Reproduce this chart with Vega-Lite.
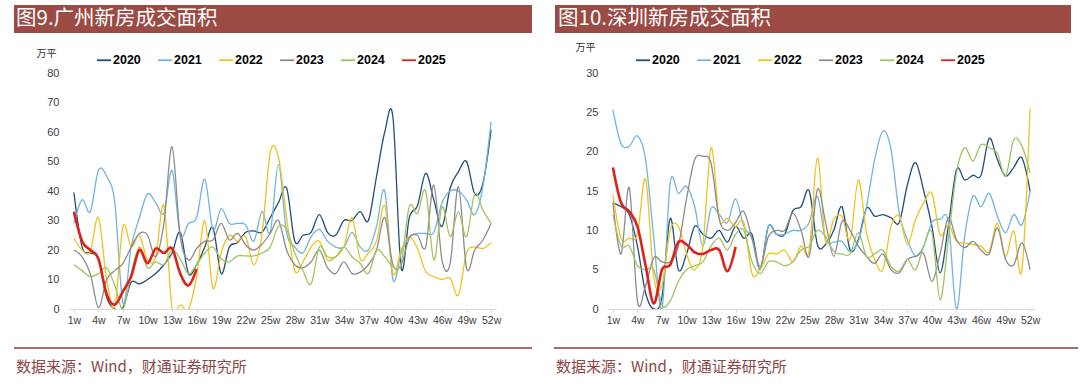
{
 "$schema": "https://vega.github.io/schema/vega-lite/v6.json",
 "background": "white",
 "padding": {"left": 13, "top": 5, "right": 0, "bottom": 0},
 "bounds": "flush",
 "spacing": 112,
 "datasets": {
  "gz": [
   {"week":1,"2020":39.5,"2021":29,"2022":24,"2023":20,"2024":15,"2025":33},
   {"week":2,"2020":21,"2021":37,"2022":20,"2023":17.7,"2024":13,"2025":23},
   {"week":3,"2020":19,"2021":33,"2022":19.4,"2023":12,"2024":11,"2025":20},
   {"week":4,"2020":17,"2021":47,"2022":31,"2023":0.5,"2024":12,"2025":17},
   {"week":5,"2020":4,"2021":45,"2022":10,"2023":10,"2024":14,"2025":5},
   {"week":6,"2020":0,"2021":36,"2022":1,"2023":13,"2024":8,"2025":1.5},
   {"week":7,"2020":0.5,"2021":2,"2022":28,"2023":15.5,"2024":0,"2025":6},
   {"week":8,"2020":9,"2021":21,"2022":21,"2023":21,"2024":12,"2025":11},
   {"week":9,"2020":8.5,"2021":31,"2022":25,"2023":25.6,"2024":21,"2025":20},
   {"week":10,"2020":10,"2021":39,"2022":16.6,"2023":25,"2024":14,"2025":15.5},
   {"week":11,"2020":12,"2021":36,"2022":17.7,"2023":17.7,"2024":16,"2025":20.5},
   {"week":12,"2020":15,"2021":32.5,"2022":35,"2023":29,"2024":15,"2025":19},
   {"week":13,"2020":19,"2021":47,"2022":0,"2023":55,"2024":20,"2025":20.5},
   {"week":14,"2020":26,"2021":25,"2022":1.4,"2023":24.5,"2024":17,"2025":12},
   {"week":15,"2020":12,"2021":29,"2022":0,"2023":16.6,"2024":12,"2025":8},
   {"week":16,"2020":15,"2021":31,"2022":11,"2023":20.5,"2024":15,"2025":13.5},
   {"week":17,"2020":21,"2021":44,"2022":30,"2023":23,"2024":19},
   {"week":18,"2020":27.5,"2021":27,"2022":7,"2023":23.4,"2024":21},
   {"week":19,"2020":12,"2021":34,"2022":19,"2023":29,"2024":17},
   {"week":20,"2020":21,"2021":29,"2022":25,"2023":23.4,"2024":16},
   {"week":21,"2020":22.5,"2021":29,"2022":23,"2023":25.6,"2024":18},
   {"week":22,"2020":26,"2021":28.5,"2022":24.5,"2023":21.7,"2024":18},
   {"week":23,"2020":26.5,"2021":23,"2022":15,"2023":20,"2024":18},
   {"week":24,"2020":26,"2021":33,"2022":25.6,"2023":22,"2024":19},
   {"week":25,"2020":31,"2021":26,"2022":53,"2023":25.6,"2024":21},
   {"week":26,"2020":36,"2021":49,"2022":51.5,"2023":30,"2024":28},
   {"week":27,"2020":41,"2021":26,"2022":31,"2023":20,"2024":27},
   {"week":28,"2020":23,"2021":21,"2022":13,"2023":15,"2024":19},
   {"week":29,"2020":25,"2021":19,"2022":16,"2023":14,"2024":13},
   {"week":30,"2020":26,"2021":24.5,"2022":21,"2023":16,"2024":8.5},
   {"week":31,"2020":32,"2021":27,"2022":23,"2023":20,"2024":21},
   {"week":32,"2020":26,"2021":23,"2022":16.6,"2023":14,"2024":17.7},
   {"week":33,"2020":25,"2021":21,"2022":17.7,"2023":12,"2024":17.7},
   {"week":34,"2020":30,"2021":21,"2022":21,"2023":16,"2024":21},
   {"week":35,"2020":30,"2021":26,"2022":31,"2023":12,"2024":17.7},
   {"week":36,"2020":33,"2021":21,"2022":17,"2023":12.5,"2024":15.5},
   {"week":37,"2020":30,"2021":20,"2022":19,"2023":15,"2024":12},
   {"week":38,"2020":45,"2021":28,"2022":23,"2023":20,"2024":20},
   {"week":39,"2020":60,"2021":40,"2022":35,"2023":31,"2024":17.7},
   {"week":40,"2020":65,"2021":10,"2022":12,"2023":15,"2024":14.3},
   {"week":41,"2020":14,"2021":19,"2022":20,"2023":15,"2024":15.5},
   {"week":42,"2020":31,"2021":24.5,"2022":24.5,"2023":24,"2024":34.7},
   {"week":43,"2020":35,"2021":25.6,"2022":20.5,"2023":25,"2024":32.4},
   {"week":44,"2020":46,"2021":25.6,"2022":12.7,"2023":21,"2024":40},
   {"week":45,"2020":37,"2021":26,"2022":11,"2023":42,"2024":16.6},
   {"week":46,"2020":28,"2021":36,"2022":10,"2023":16.6,"2024":34.7},
   {"week":47,"2020":41,"2021":40,"2022":10.4,"2023":15.5,"2024":24.5},
   {"week":48,"2020":46.5,"2021":40,"2022":4.7,"2023":41.5,"2024":33},
   {"week":49,"2020":50,"2021":37,"2022":19,"2023":13.8,"2024":24.5},
   {"week":50,"2020":39,"2021":32,"2022":21,"2023":20,"2024":39},
   {"week":51,"2020":42.6,"2021":41.5,"2022":20.5,"2023":23.4,"2024":33.5},
   {"week":52,"2020":60.7,"2021":63.5,"2022":22.5,"2023":29,"2024":29}
  ],
  "sz": [
   {"week":1,"2020":13.5,"2021":25.3,"2022":14.5,"2023":13.5,"2024":12,"2025":18},
   {"week":2,"2020":13,"2021":21,"2022":9,"2023":7,"2024":8,"2025":13.5},
   {"week":3,"2020":12,"2021":20.7,"2022":9,"2023":15.4,"2024":8,"2025":12.4},
   {"week":4,"2020":8,"2021":22,"2022":9.5,"2023":1,"2024":5.5,"2025":10.5},
   {"week":5,"2020":2,"2021":19,"2022":16.5,"2023":3,"2024":5,"2025":5.5},
   {"week":6,"2020":0,"2021":9,"2022":4,"2023":6.5,"2024":5,"2025":0.7},
   {"week":7,"2020":1.5,"2021":0,"2022":3,"2023":6,"2024":0.5,"2025":5},
   {"week":8,"2020":11.5,"2021":16,"2022":10,"2023":6,"2024":1,"2025":5.6},
   {"week":9,"2020":5,"2021":14.7,"2022":10.5,"2023":8,"2024":3.5,"2025":8.5},
   {"week":10,"2020":7,"2021":15.6,"2022":7,"2023":14,"2024":5,"2025":8.2},
   {"week":11,"2020":10.5,"2021":13,"2022":5,"2023":19,"2024":5.5,"2025":7.2},
   {"week":12,"2020":9.5,"2021":8,"2022":8,"2023":19.4,"2024":6,"2025":7},
   {"week":13,"2020":9,"2021":12.8,"2022":20.5,"2023":18.5,"2024":8,"2025":7.5},
   {"week":14,"2020":10,"2021":12,"2022":11.5,"2023":11.4,"2024":9,"2025":7.5},
   {"week":15,"2020":8.5,"2021":11,"2022":11.5,"2023":10,"2024":7.5,"2025":4.8},
   {"week":16,"2020":10.5,"2021":14,"2022":10.5,"2023":11,"2024":9.5,"2025":7.9},
   {"week":17,"2020":9,"2021":10.5,"2022":11,"2023":12.4,"2024":10},
   {"week":18,"2020":9.5,"2021":9,"2022":4.5,"2023":9,"2024":6},
   {"week":19,"2020":5,"2021":5,"2022":5,"2023":5.4,"2024":4.5},
   {"week":20,"2020":10.5,"2021":10.5,"2022":7,"2023":9.2,"2024":6},
   {"week":21,"2020":9.5,"2021":9.5,"2022":7,"2023":10,"2024":6},
   {"week":22,"2020":9.5,"2021":9.5,"2022":7.5,"2023":10,"2024":5.5},
   {"week":23,"2020":12.5,"2021":10,"2022":6,"2023":12.2,"2024":6},
   {"week":24,"2020":13,"2021":10,"2022":8,"2023":10,"2024":7.5},
   {"week":25,"2020":15,"2021":11,"2022":7.5,"2023":6.7,"2024":8},
   {"week":26,"2020":8.2,"2021":14.3,"2022":19.2,"2023":15.2,"2024":10},
   {"week":27,"2020":8.2,"2021":8.8,"2022":8.6,"2023":11,"2024":9.2},
   {"week":28,"2020":10,"2021":8.5,"2022":11.4,"2023":6.7,"2024":7.3},
   {"week":29,"2020":13,"2021":8.6,"2022":11.8,"2023":11.1,"2024":7},
   {"week":30,"2020":7.5,"2021":7.3,"2022":8.8,"2023":10,"2024":7},
   {"week":31,"2020":8.8,"2021":8.6,"2022":16.4,"2023":8,"2024":9.7},
   {"week":32,"2020":12.8,"2021":13,"2022":9.7,"2023":6.7,"2024":6.7},
   {"week":33,"2020":11.8,"2021":19,"2022":6.3,"2023":5.8,"2024":7},
   {"week":34,"2020":12,"2021":22.6,"2022":5,"2023":7,"2024":7.5},
   {"week":35,"2020":11.6,"2021":20.3,"2022":10.5,"2023":5,"2024":5.4},
   {"week":36,"2020":11,"2021":12.2,"2022":11.8,"2023":4.6,"2024":4.8},
   {"week":37,"2020":15.8,"2021":8.8,"2022":8.2,"2023":6.3,"2024":6.3},
   {"week":38,"2020":18.6,"2021":6.7,"2022":11.4,"2023":6.7,"2024":5},
   {"week":39,"2020":15,"2021":8,"2022":13.5,"2023":7,"2024":8},
   {"week":40,"2020":10.5,"2021":11,"2022":14.7,"2023":3.5,"2024":9.7},
   {"week":41,"2020":4.6,"2021":11.4,"2022":9.4,"2023":7,"2024":1.2},
   {"week":42,"2020":10.5,"2021":11.1,"2022":10.7,"2023":11.6,"2024":8.8},
   {"week":43,"2020":17.7,"2021":0,"2022":8.6,"2023":8.8,"2024":17.3},
   {"week":44,"2020":16.4,"2021":9.2,"2022":8.4,"2023":7.8,"2024":20.5},
   {"week":45,"2020":17,"2021":14.3,"2022":8.2,"2023":8.6,"2024":18.8},
   {"week":46,"2020":17,"2021":13,"2022":8,"2023":7.5,"2024":20.9},
   {"week":47,"2020":21.7,"2021":14.7,"2022":7.3,"2023":7,"2024":20.5},
   {"week":48,"2020":19,"2021":11.8,"2022":10.9,"2023":10.3,"2024":19.8},
   {"week":49,"2020":16.9,"2021":9.7,"2022":6.7,"2023":6.3,"2024":16.9},
   {"week":50,"2020":18,"2021":12,"2022":9.9,"2023":5.6,"2024":21.5},
   {"week":51,"2020":19.2,"2021":10.7,"2022":5,"2023":8.4,"2024":20.7},
   {"week":52,"2020":15,"2021":15,"2022":25.5,"2023":5,"2024":17.3}
  ]
 },
 "hconcat": [
  {
   "width": 427,
   "height": 236,
   "layer": [
    {"data": {"values": [{}]}, "mark": {"type": "rect", "color": "#9b4a44"}, "encoding": {"x": {"value": -55}, "x2": {"value": 463}, "y": {"value": -68}, "y2": {"value": -40}}},
    {"data": {"values": [{"t": "图9.广州新房成交面积"}]}, "mark": {"type": "text", "color": "#ffffff", "font": "Noto Sans CJK SC", "fontSize": 20.5, "align": "left", "baseline": "middle"}, "encoding": {"text": {"field": "t"}, "x": {"value": -53}, "y": {"value": -54}}},
    {"data": {"values": [{}]}, "mark": {"type": "rule", "color": "#8c3b38", "strokeWidth": 1.5}, "encoding": {"x": {"value": -55}, "x2": {"value": 463}, "y": {"value": 275}}},
    {"data": {"values": [{"t": "数据来源：Wind，财通证券研究所"}]}, "mark": {"type": "text", "color": "#8c4646", "font": "Noto Sans CJK SC", "fontSize": 15, "align": "left", "baseline": "middle"}, "encoding": {"text": {"field": "t"}, "x": {"value": -53}, "y": {"value": 294}}},
    {
     "data": {"name": "gz"},
     "transform": [
      {"fold": ["2020","2021","2022","2023","2024","2025"], "as": ["year","value"]},
      {"filter": "isValid(datum.value)"}
     ],
     "mark": {"type": "line", "interpolate": "cardinal", "clip": true},
     "encoding": {
      "x": {"field": "week", "type": "quantitative", "scale": {"domain": [0.4, 52.6], "nice": false, "zero": false},
            "axis": {"values": [1,4,7,10,13,16,19,22,25,28,31,34,37,40,43,46,49,52], "labelExpr": "datum.value + 'w'", "grid": false, "domainColor": "#d9d9d9", "tickColor": "#d9d9d9", "tickSize": 3, "labelFont": "Liberation Sans", "labelFontSize": 10.5, "labelColor": "#404040", "labelPadding": 3, "labelFlush": false, "labelOverlap": false, "title": null}},
      "y": {"field": "value", "type": "quantitative", "scale": {"domain": [0, 80], "nice": false},
            "axis": {"values": [0,10,20,30,40,50,60,70,80], "grid": false, "domain": false, "ticks": false, "labelPadding": 10, "labelFont": "Liberation Sans", "labelFontSize": 11, "labelColor": "#404040", "labelFlush": false,
                     "title": "万平", "titleAngle": 0, "titleX": -23, "titleY": -20, "titleAlign": "center", "titleBaseline": "middle", "titleFont": "Noto Sans CJK SC", "titleFontSize": 10, "titleFontWeight": "normal", "titleColor": "#333333"}},
      "color": {"field": "year", "type": "nominal",
                "scale": {"domain": ["2020","2021","2022","2023","2024","2025"], "range": ["#1f4e79","#70b4e0","#eec320","#8c8c8c","#9dc462","#e0201b"]},
                "legend": {"orient": "none", "legendX": 27, "legendY": -21, "direction": "horizontal", "title": null, "symbolType": "stroke", "symbolSize": 196, "symbolStrokeWidth": 1.8, "labelFont": "Liberation Sans", "labelFontSize": 12.5, "labelFontWeight": "bold", "labelColor": "#000000", "labelOffset": 1, "columnPadding": 13}},
      "strokeWidth": {"condition": {"test": "datum.year === '2025'", "value": 2.6}, "value": 1.3}
     }
    }
   ]
  },
  {
   "width": 427,
   "height": 236,
   "layer": [
    {"data": {"values": [{}]}, "mark": {"type": "rect", "color": "#9b4a44"}, "encoding": {"x": {"value": -53}, "x2": {"value": 463}, "y": {"value": -68}, "y2": {"value": -40}}},
    {"data": {"values": [{"t": "图10.深圳新房成交面积"}]}, "mark": {"type": "text", "color": "#ffffff", "font": "Noto Sans CJK SC", "fontSize": 20.5, "align": "left", "baseline": "middle"}, "encoding": {"text": {"field": "t"}, "x": {"value": -50}, "y": {"value": -54}}},
    {"data": {"values": [{}]}, "mark": {"type": "rule", "color": "#8c3b38", "strokeWidth": 1.5}, "encoding": {"x": {"value": -54}, "x2": {"value": 470}, "y": {"value": 275}}},
    {"data": {"values": [{"t": "数据来源：Wind，财通证券研究所"}]}, "mark": {"type": "text", "color": "#8c4646", "font": "Noto Sans CJK SC", "fontSize": 15, "align": "left", "baseline": "middle"}, "encoding": {"text": {"field": "t"}, "x": {"value": -52}, "y": {"value": 294}}},
    {
     "data": {"name": "sz"},
     "transform": [
      {"fold": ["2020","2021","2022","2023","2024","2025"], "as": ["year","value"]},
      {"filter": "isValid(datum.value)"}
     ],
     "mark": {"type": "line", "interpolate": "cardinal", "clip": true},
     "encoding": {
      "x": {"field": "week", "type": "quantitative", "scale": {"domain": [0.4, 52.6], "nice": false, "zero": false},
            "axis": {"values": [1,4,7,10,13,16,19,22,25,28,31,34,37,40,43,46,49,52], "labelExpr": "datum.value + 'w'", "grid": false, "domainColor": "#d9d9d9", "tickColor": "#d9d9d9", "tickSize": 3, "labelFont": "Liberation Sans", "labelFontSize": 10.5, "labelColor": "#404040", "labelPadding": 3, "labelFlush": false, "labelOverlap": false, "title": null}},
      "y": {"field": "value", "type": "quantitative", "scale": {"domain": [0, 30], "nice": false},
            "axis": {"values": [0,5,10,15,20,25,30], "grid": false, "domain": false, "ticks": false, "labelPadding": 10, "labelFont": "Liberation Sans", "labelFontSize": 11, "labelColor": "#404040", "labelFlush": false,
                     "title": "万平", "titleAngle": 0, "titleX": -23, "titleY": -26, "titleAlign": "center", "titleBaseline": "middle", "titleFont": "Noto Sans CJK SC", "titleFontSize": 10, "titleFontWeight": "normal", "titleColor": "#333333"}},
      "color": {"field": "year", "type": "nominal",
                "scale": {"domain": ["2020","2021","2022","2023","2024","2025"], "range": ["#1f4e79","#70b4e0","#eec320","#8c8c8c","#9dc462","#e0201b"]},
                "legend": {"orient": "none", "legendX": 27, "legendY": -21, "direction": "horizontal", "title": null, "symbolType": "stroke", "symbolSize": 196, "symbolStrokeWidth": 1.8, "labelFont": "Liberation Sans", "labelFontSize": 12.5, "labelFontWeight": "bold", "labelColor": "#000000", "labelOffset": 1, "columnPadding": 13}},
      "strokeWidth": {"condition": {"test": "datum.year === '2025'", "value": 2.6}, "value": 1.3}
     }
    }
   ]
  }
 ],
 "resolve": {"scale": {"color": "independent", "x": "independent", "y": "independent"}, "legend": {"color": "independent"}},
 "config": {"view": {"stroke": null}}
}
